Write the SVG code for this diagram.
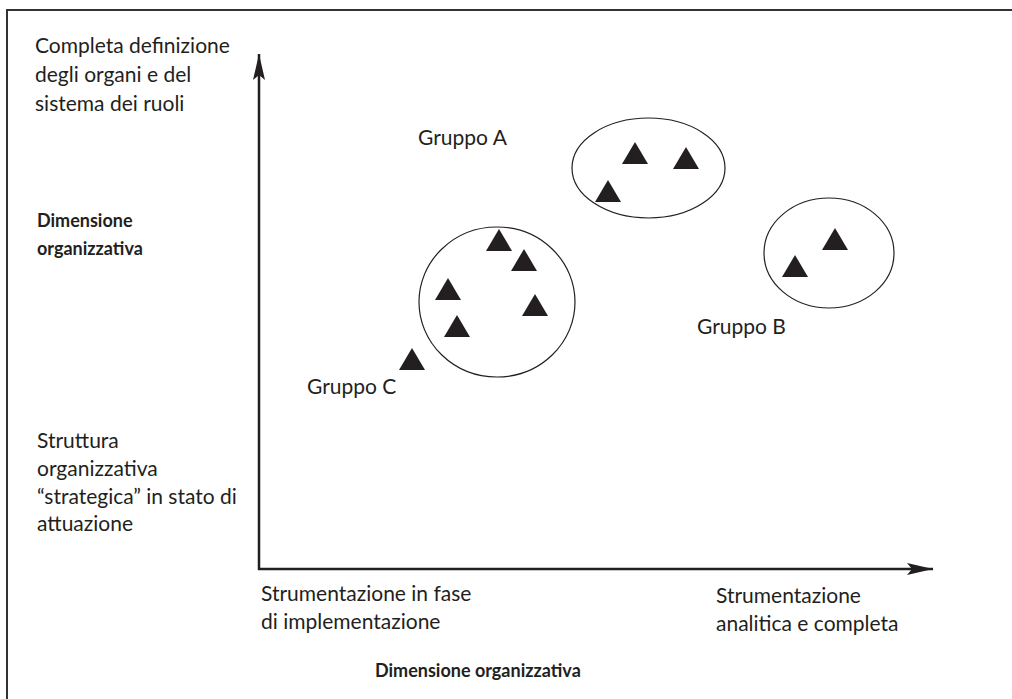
<svg xmlns="http://www.w3.org/2000/svg" width="1012" height="699" viewBox="0 0 1012 699">
  <defs>
    <style>
      .txt { font-family: Lato, "Liberation Sans", sans-serif; font-size: 21px; fill: #231f20; }
      .bold { font-weight: bold; font-size: 18px; }
      .axis { stroke: #231f20; stroke-width: 2.5; fill: none; }
      .ring { stroke: #231f20; stroke-width: 1.2; fill: none; }
      .tri { fill: #231f20; }
      .frame { stroke: #333; stroke-width: 2; fill: none; }
    </style>
    <marker id="arrow" viewBox="0 0 26 12" refX="26" refY="6" markerWidth="26" markerHeight="12" markerUnits="userSpaceOnUse" orient="auto">
      <path d="M0,0 L26,6 L0,12 L5,6 Z" fill="#231f20"/>
    </marker>
    <path id="tri" class="tri" d="M0,0 L13,22 L-13,22 Z"/>
  </defs>
  <rect width="1012" height="699" fill="#fff"/>
  <!-- open frame: top and left edges only -->
  <path class="frame" d="M7,699 L7,10 L1012,10"/>

  <!-- axes -->
  <g id="connectors">
    <line class="axis" x1="259" y1="570" x2="259" y2="54" marker-end="url(#arrow)"/>
    <line class="axis" x1="258" y1="569" x2="933" y2="569" marker-end="url(#arrow)"/>
  </g>

  <!-- vertical axis labels -->
  <g id="y-top-label">
    <text class="txt" x="35" y="53">Completa definizione</text>
    <text class="txt" x="35" y="82">degli organi e del</text>
    <text class="txt" x="35" y="111">sistema dei ruoli</text>
  </g>
  <g id="y-title">
    <text class="txt bold" x="37" y="227">Dimensione</text>
    <text class="txt bold" x="37" y="255">organizzativa</text>
  </g>
  <g id="y-bottom-label">
    <text class="txt" x="37" y="448">Struttura</text>
    <text class="txt" x="37" y="476">organizzativa</text>
    <text class="txt" x="37" y="504">“strategica” in stato di</text>
    <text class="txt" x="37" y="531">attuazione</text>
  </g>

  <!-- horizontal axis labels -->
  <g id="x-left-label">
    <text class="txt" x="261" y="601">Strumentazione in fase</text>
    <text class="txt" x="261" y="629">di implementazione</text>
  </g>
  <g id="x-right-label">
    <text class="txt" x="716" y="603">Strumentazione</text>
    <text class="txt" x="716" y="631">analitica e completa</text>
  </g>
  <g id="x-title">
    <text class="txt bold" x="375" y="677">Dimensione organizzativa</text>
  </g>

  <!-- Gruppo A -->
  <g id="gruppo-a">
    <text class="txt" x="418" y="145">Gruppo A</text>
    <ellipse class="ring" cx="648.5" cy="168" rx="76.5" ry="50"/>
    <use href="#tri" x="635" y="142"/>
    <use href="#tri" x="686" y="147"/>
    <use href="#tri" x="608" y="180"/>
  </g>

  <!-- Gruppo B -->
  <g id="gruppo-b">
    <ellipse class="ring" cx="829" cy="253" rx="65" ry="55"/>
    <use href="#tri" x="835" y="228"/>
    <use href="#tri" x="795" y="255"/>
    <text class="txt" x="697" y="334">Gruppo B</text>
  </g>

  <!-- Gruppo C -->
  <g id="gruppo-c">
    <ellipse class="ring" cx="497" cy="302" rx="78" ry="75"/>
    <use href="#tri" x="499" y="229"/>
    <use href="#tri" x="524" y="249"/>
    <use href="#tri" x="448" y="278"/>
    <use href="#tri" x="535" y="294"/>
    <use href="#tri" x="457" y="315"/>
    <use href="#tri" x="412" y="348"/>
    <text class="txt" x="307" y="394">Gruppo C</text>
  </g>
</svg>
